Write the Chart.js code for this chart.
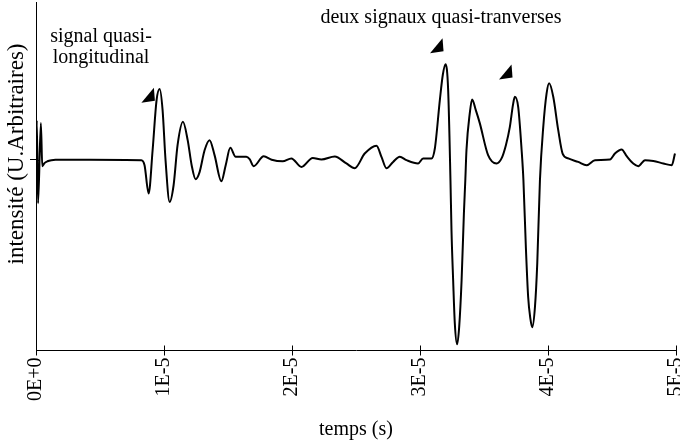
<!DOCTYPE html>
<html>
<head>
<meta charset="utf-8">
<script src="https://cdn.jsdelivr.net/npm/chart.js@4"></script>
<style>
  html, body { margin: 0; padding: 0; background: #fff; }
  #wrap { width: 680px; height: 447px; }
</style>
</head>
<body>
<div id="wrap"><canvas id="signalChart" width="680" height="447"></canvas></div>
<script>
// time in microseconds (axis is shown in seconds, 1E-5 = 10 us)
const timeUs = [0, 0.06, 0.16, 0.38, 0.49, 0.66, 0.9, 1.21, 1.52, 4.18,
  8.23, 8.48, 8.80, 9.11, 9.42, 9.66, 9.89, 10.12, 10.44, 10.75,
  11.06, 11.48, 11.85, 12.16, 12.47, 12.78, 13.17, 13.56, 13.95, 14.48,
  14.82, 15.18, 15.6, 16.43, 16.69, 17.0, 17.79, 18.41, 19.27, 19.95,
  20.74, 21.62, 22.3, 23.34, 24.25, 24.9, 25.68, 26.6, 26.99, 27.38,
  27.9, 28.42, 28.94, 29.85, 30.24, 30.9, 31.16, 31.55, 31.78, 31.99,
  32.2, 32.38, 32.46, 32.59, 32.72, 32.9, 33.06, 33.25, 33.43, 33.54,
  33.63, 33.89, 34.07, 34.36, 34.67, 35.32, 35.98, 36.37, 36.71, 37.02,
  37.26, 37.41, 37.67, 37.94, 38.08, 38.27, 38.45, 38.62, 38.77, 38.98,
  39.16, 39.37, 39.63, 39.89, 40.09, 40.41, 40.8, 41.14, 41.58, 42.36,
  43.02, 43.67, 44.84, 45.23, 45.75, 46.15, 46.66, 47.05, 47.58, 48.23,
  49.01, 49.67, 49.92];

// intensity, arbitrary units
const intensity = [0, 0.25, -0.276, 0.232, -0.041, -0.022, -0.01, -0.003, 0, 0,
  -0.003, -0.035, -0.215, 0.06, 0.378, 0.448, 0.314, -0.003, -0.268, -0.162,
  0.092, 0.24, 0.124, -0.035, -0.124, -0.079, 0.06, 0.124, 0.029, -0.137,
  -0.035, 0.075, 0.018, 0.018, 0.003, -0.041, 0.022, 0, -0.01, 0.008,
  -0.046, 0.011, 0.001, 0.02, -0.024, -0.054, 0.039, 0.089, 0.018, -0.054,
  -0.014, 0.018, -0.003, -0.024, 0.008, 0.008, 0.071, 0.378, 0.537, 0.606,
  0.441, -0.13, -0.448, -0.765, -1.038, -1.171, -1.062, -0.765, -0.34, -0.13,
  0.06, 0.295, 0.382, 0.314, 0.232, 0.029, -0.024, 0.008, 0.092, 0.208,
  0.346, 0.399, 0.335, 0.06, -0.13, -0.554, -0.871, -1.006, -1.062, -0.935,
  -0.659, -0.13, 0.208, 0.42, 0.484, 0.399, 0.187, 0.039, 0.008, -0.014,
  -0.035, -0.003, 0.001, 0.039, 0.065, 0.022, -0.024, -0.041, -0.003, -0.008,
  -0.024, -0.035, 0.039];

const xTickLabels = ["0E+0", "1E-5", "2E-5", "3E-5", "4E-5", "5E-5"];

// arrow heads pointing at the signals (tip position, data units)
const arrowTime = [9.21, 31.76, 37.15];
const arrowValue = [0.457, 0.77, 0.604];

const serif = '"Liberation Serif", "Times New Roman", serif';

const annotations = {
  id: 'annotations',
  afterDraw(chart) {
    const { ctx, chartArea, scales: { x, y } } = chart;
    ctx.save();
    ctx.strokeStyle = '#000';
    ctx.fillStyle = '#000';
    ctx.lineWidth = 1;

    // tick marks crossing into the plot
    ctx.beginPath();
    for (let v = 0; v <= 50; v += 10) {
      const px = Math.round(x.getPixelForValue(v)) + 0.5;
      ctx.moveTo(px, chartArea.bottom - 5);
      ctx.lineTo(px, chartArea.bottom);
    }
    const zy = Math.round(y.getPixelForValue(0)) + 0.5;
    ctx.moveTo(chartArea.left, zy);
    ctx.lineTo(chartArea.left + 4, zy);
    ctx.stroke();

    // arrow heads
    arrowTime.forEach((t, i) => {
      const px = x.getPixelForValue(t);
      const py = y.getPixelForValue(arrowValue[i]);
      ctx.beginPath();
      ctx.moveTo(px, py);
      ctx.lineTo(px - 12.5, py + 15);
      ctx.lineTo(px + 1, py + 13);
      ctx.closePath();
      ctx.fill();
    });

    // labels
    ctx.font = '20px ' + serif;
    ctx.textAlign = 'center';
    ctx.textBaseline = 'middle';
    ctx.fillText('signal quasi-', 101, 37);
    ctx.fillText('longitudinal', 101, 58);
    ctx.fillText('deux signaux quasi-tranverses', 441, 18);

    // y axis title
    ctx.translate(17, 154);
    ctx.rotate(-Math.PI / 2);
    ctx.font = '23px ' + serif;
    ctx.fillText('intensité (U.Arbitraires)', 0, 0);
    ctx.restore();
  }
};

new Chart(document.getElementById('signalChart'), {
  type: 'line',
  data: {
    datasets: [{
      data: timeUs.map((t, i) => ({ x: t, y: intensity[i] })),
      borderColor: '#000',
      borderWidth: 2,
      pointRadius: 0,
      fill: false,
      cubicInterpolationMode: 'monotone',
    }],
  },
  options: {
    responsive: false,
    animation: false,
    events: [],
    layout: { padding: { top: 2, right: 4, left: 0, bottom: 0 } },
    plugins: {
      legend: { display: false },
      tooltip: { enabled: false },
    },
    scales: {
      x: {
        type: 'linear',
        min: 0,
        max: 50,
        afterBuildTicks: (scale) => {
          scale.ticks = xTickLabels.map((_, i) => ({ value: i * 10 }));
        },
        afterFit: (scale) => {
          scale.height = 96.5;
          scale.paddingLeft = 0;
          scale.paddingRight = 0;
        },
        ticks: {
          color: '#000',
          font: { family: serif, size: 20 },
          minRotation: 90,
          maxRotation: 90,
          padding: 2,
          callback: (v) => xTickLabels[Math.round(v / 10)],
        },
        grid: {
          drawOnChartArea: false,
          drawTicks: true,
          tickLength: 5,
          color: '#000',
        },
        border: { display: true, color: '#000', width: 1 },
        title: {
          display: true,
          text: 'temps (s)',
          color: '#000',
          font: { family: serif, size: 20 },
          padding: { top: 0, bottom: 5 },
        },
      },
      y: {
        min: -1.21,
        max: 1,
        afterBuildTicks: (scale) => {
          scale.ticks = [{ value: 0 }];
        },
        afterFit: (scale) => {
          scale.width = 36;
          scale.paddingTop = 0;
          scale.paddingBottom = 0;
        },
        ticks: { display: false },
        grid: {
          drawOnChartArea: false,
          drawTicks: true,
          tickLength: 6,
          color: '#000',
        },
        border: { display: true, color: '#000', width: 1 },
      },
    },
  },
  plugins: [annotations],
});
</script>
</body>
</html>
